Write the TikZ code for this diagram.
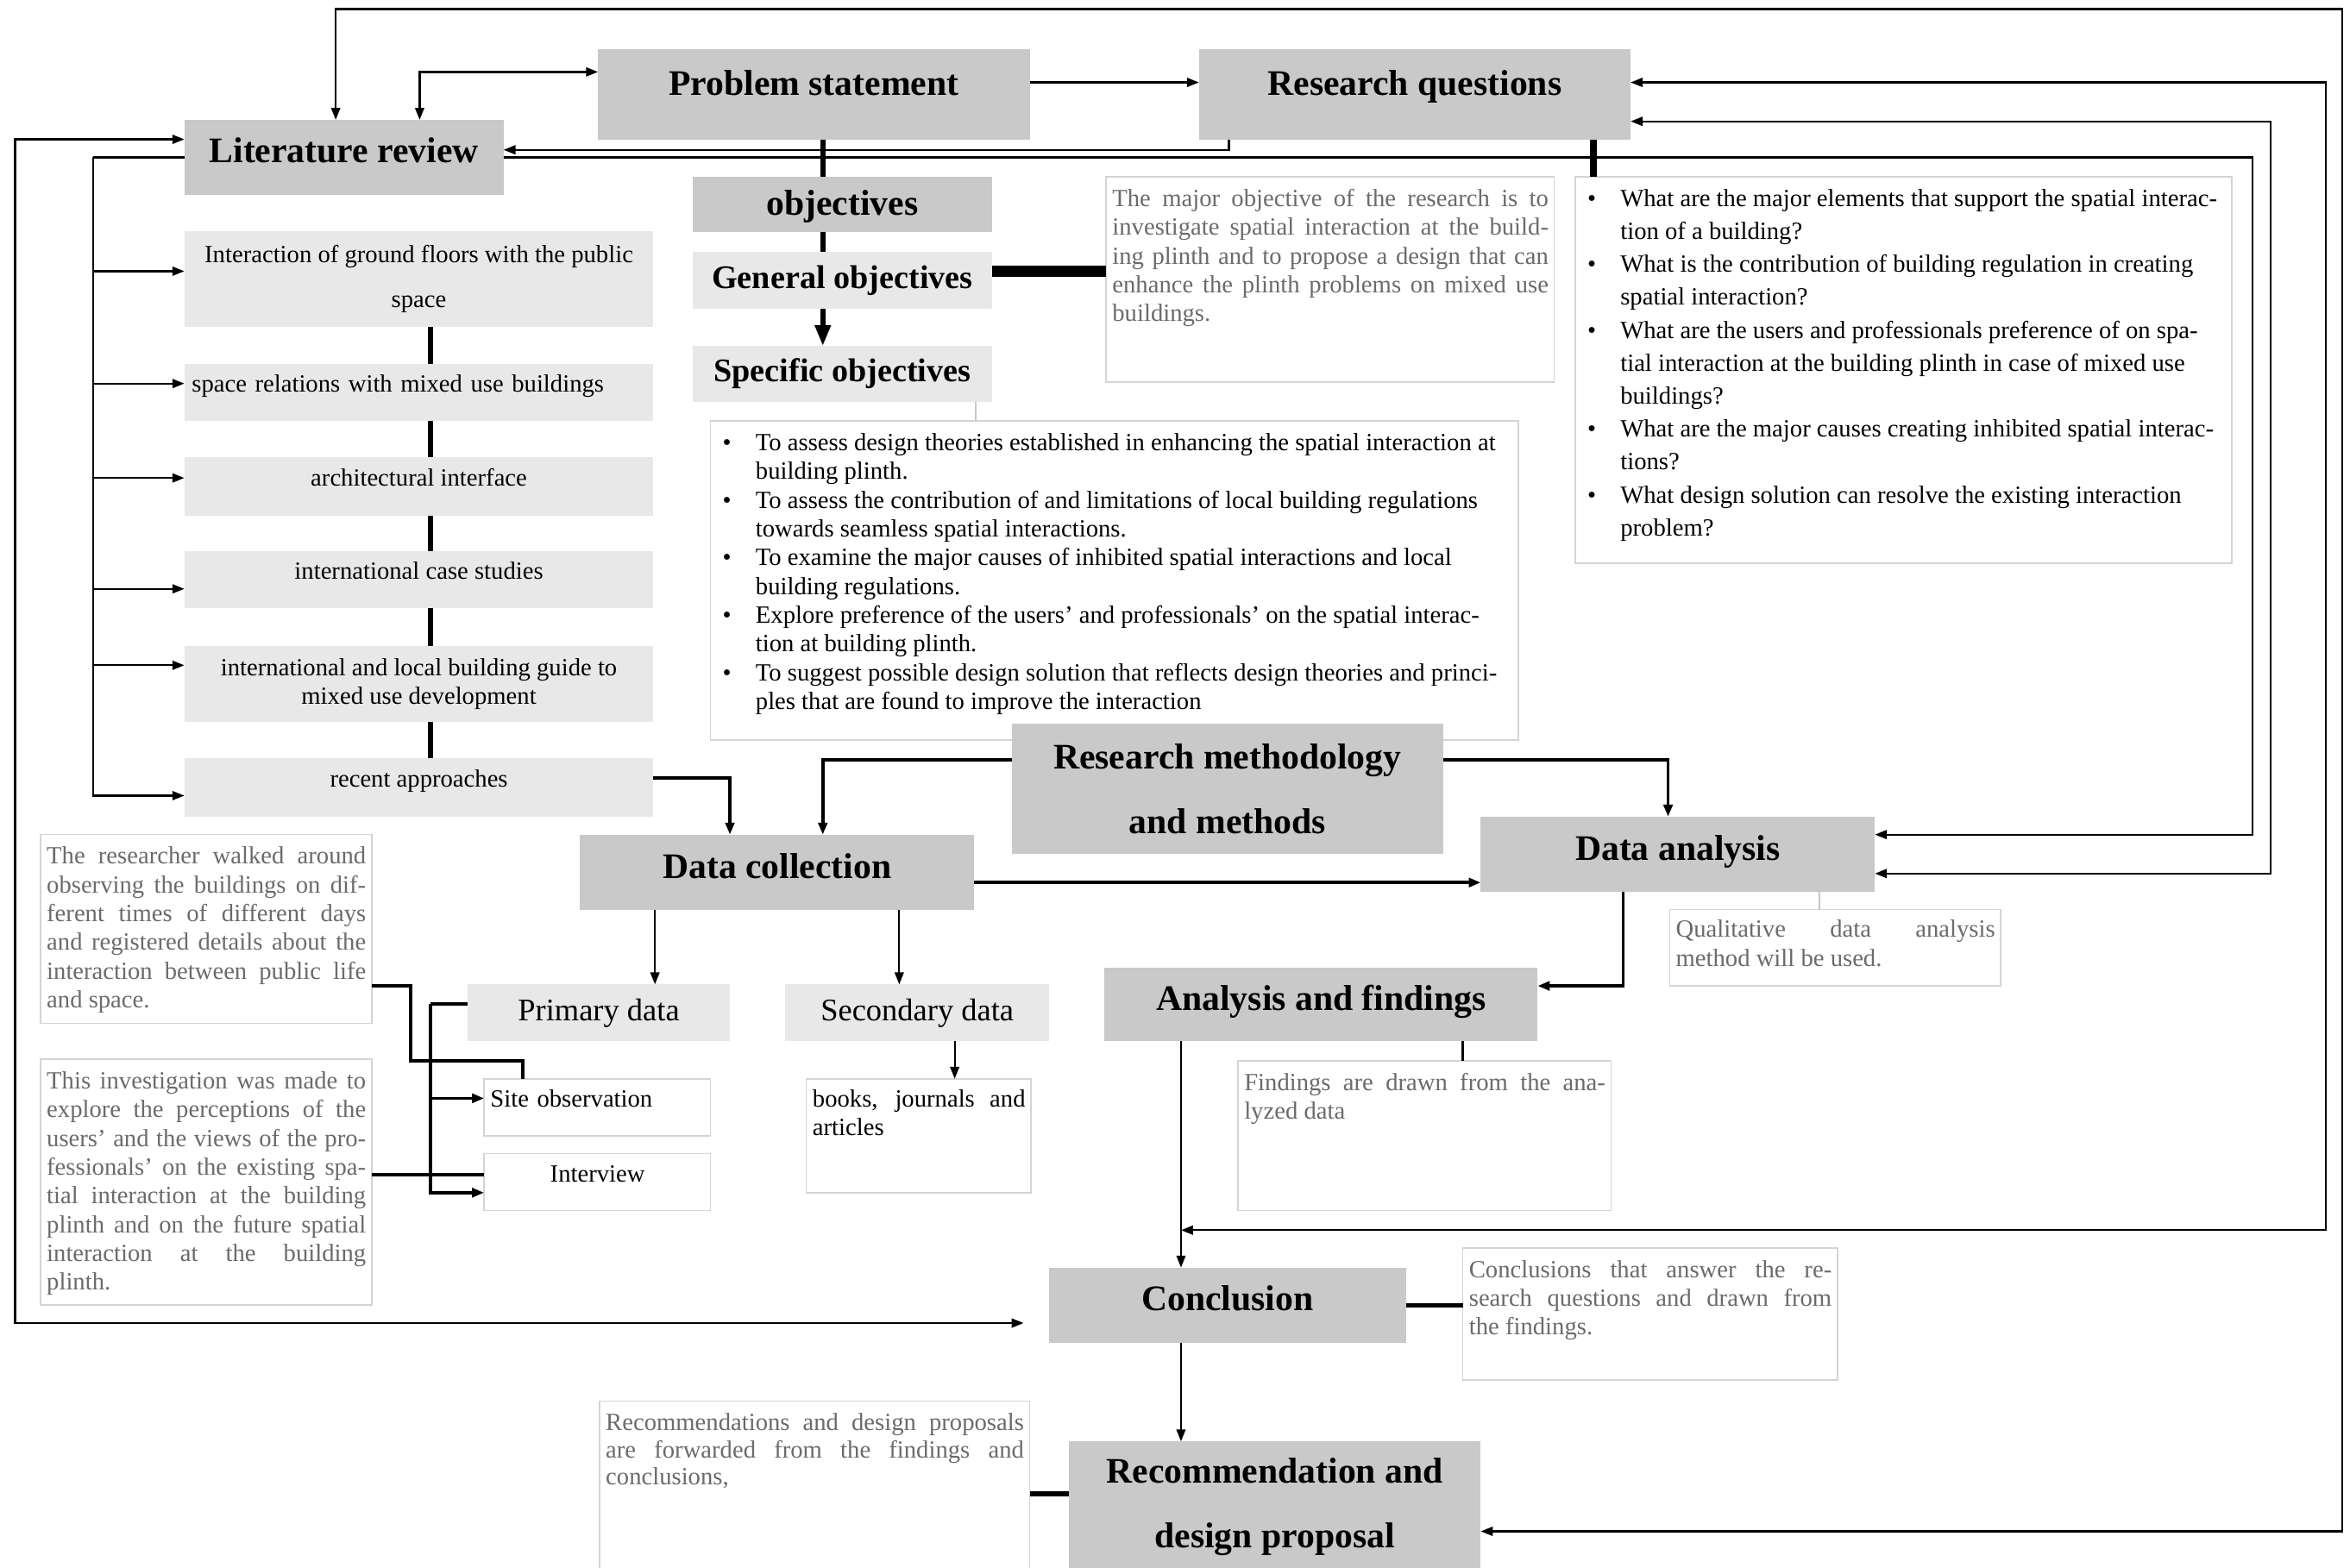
\documentclass[tikz,border=0pt]{standalone}
\usepackage{fontspec}
\setmainfont{Liberation Serif}
\usetikzlibrary{arrows.meta}
\newcommand\qfirst{\noindent\hangindent=26pt\hangafter=1\hbox to 26pt{\hspace{4pt}\textbullet\hfil}}
\newcommand\qitem{\par\qfirst}
\newcommand\qbreak{\hfil\break}
\tikzset{
  mainbox/.style = {fill = black!21, inner sep = 2pt, outer sep = 0pt, align = center,
                    font = \bfseries\fontsize{24}{43}\selectfont},
  subbox/.style = {fill = black!9, inner sep = 2pt, outer sep = 0pt, align = center,
                   font = \fontsize{16.5}{30}\selectfont},
  textup/.style = {text height = 16pt, text depth = #1},
  subup/.style = {text height = 11pt, text depth = 11.5pt},
  notebox/.style = {draw = black!17, line width = .9pt, fill = white, anchor = north west,
                    inner sep = 0pt, outer sep = 0pt},
  notetext/.style = {anchor = north west, inner xsep = 4pt, inner ysep = 8pt, align = justify,
                     font = \fontsize{16.5}{19.2}\selectfont, text = black!58},
  listtext/.style = {notetext, text = black},
  conn/.style = {line width = 1.3pt},
  midline/.style = {line width = 2.2pt},
  heavyline/.style = {line width = 3.5pt},
  faint/.style = {draw = black!22, line width = 1pt}
}
\begin{document}
\begin{tikzpicture}[x = 1pt, y = -1pt, >={Triangle[length=8pt,width=6pt]}]
\useasboundingbox (0,0) rectangle (1568,1046);
% main steps
\node[mainbox, textup = 9.2pt, minimum width = 213pt, minimum height = 50pt] (litrev) at (229.5,105) {Literature review};
\node[mainbox, textup = 15.2pt, minimum width = 288pt, minimum height = 60pt] (prob) at (543,63) {Problem statement};
\node[mainbox, textup = 15.2pt, minimum width = 288pt, minimum height = 60pt] (rq) at (944,63) {Research questions};
\node[mainbox, textup = 1.2pt, minimum width = 200pt, minimum height = 37pt] (obj) at (562,136.5) {objectives};
\node[subbox, font = \bfseries\fontsize{22}{26}\selectfont, minimum width = 200pt, minimum height = 38pt] (genobj) at (562,187) {General objectives};
\node[subbox, font = \bfseries\fontsize{22}{26}\selectfont, minimum width = 200pt, minimum height = 37pt] (specobj) at (562,249.5) {Specific objectives};
% literature topics
\node[subbox, minimum width = 313pt, minimum height = 64pt] (s1) at (279.5,186) {Interaction of ground floors with the public\\space};
\node[subbox, subup, text width = 303pt, align = left, minimum width = 313pt, minimum height = 38pt] (s2) at (279.5,262) {space relations with mixed use buildings};
\node[subbox, subup, minimum width = 313pt, minimum height = 39pt] (s3) at (279.5,324.5) {architectural interface};
\node[subbox, subup, minimum width = 313pt, minimum height = 38pt] (s4) at (279.5,387) {international case studies};
\node[subbox, font = \fontsize{16.5}{19}\selectfont, minimum width = 313pt, minimum height = 51pt] (s5) at (279.5,456.5) {international and local building guide to\\mixed use development};
\node[subbox, subup, minimum width = 313pt, minimum height = 39pt] (s6) at (279.5,525.5) {recent approaches};
% notes
\node[notebox, minimum width = 299pt, minimum height = 137pt] (gennote) at (738,118) {};
\node[notetext, text width = 291pt] (gentext) at (gennote.north west) {The major objective of the research is to\linebreak investigate spatial interaction at the build-\linebreak ing plinth and to propose a design that can\linebreak enhance the plinth problems on mixed use\linebreak buildings.};
\node[notebox, minimum width = 438pt, minimum height = 258pt] (rqnote) at (1051,118) {};
\node[listtext, text width = 430pt, font = \fontsize{16.5}{22}\selectfont] (rqtext) at (rqnote.north west) {%
\qfirst What are the major elements that support the spatial interac-\qbreak tion of a building?
\qitem What is the contribution of building regulation in creating\qbreak spatial interaction?
\qitem What are the users and professionals preference of on spa-\qbreak tial interaction at the building plinth in case of mixed use\qbreak buildings?
\qitem What are the major causes creating inhibited spatial interac-\qbreak tions?
\qitem What design solution can resolve the existing interaction\qbreak problem?\par};
\node[notebox, minimum width = 539pt, minimum height = 213pt] (specnote) at (474,281) {};
\node[listtext, text width = 531pt] (spectext) at (specnote.north west) {%
\qfirst To assess design theories established in enhancing the spatial interaction at\qbreak building plinth.
\qitem To assess the contribution of and limitations of local building regulations\qbreak towards seamless spatial interactions.
\qitem To examine the major causes of inhibited spatial interactions and local\qbreak building regulations.
\qitem Explore preference of the users' and professionals' on the spatial interac-\qbreak tion at building plinth.
\qitem To suggest possible design solution that reflects design theories and princi-\qbreak ples that are found to improve the interaction\par};
\node[mainbox, minimum width = 288pt, minimum height = 87pt] (rm) at (819,526.5) {Research methodology\\and methods};
\node[mainbox, textup = 7.2pt, minimum width = 263pt, minimum height = 50pt] (dc) at (518.5,582) {Data collection};
\node[mainbox, textup = 7.2pt, minimum width = 263pt, minimum height = 50pt] (da) at (1119.5,570) {Data analysis};
\node[mainbox, textup = 8.2pt, minimum width = 289pt, minimum height = 49pt] (af) at (881.5,670.5) {Analysis and findings};
\node[mainbox, textup = 9.2pt, minimum width = 238pt, minimum height = 50pt] (concl) at (819,871) {Conclusion};
\node[mainbox, minimum width = 275pt, minimum height = 87pt] (rec) at (850.5,1005.5) {Recommendation and\\design proposal};
% data collection
\node[subbox, font = \fontsize{21}{25}\selectfont, minimum width = 175pt, minimum height = 38pt] (prim) at (399.5,676) {Primary data};
\node[subbox, font = \fontsize{21}{25}\selectfont, minimum width = 176pt, minimum height = 38pt] (sec) at (612,676) {Secondary data};
\node[notebox, minimum width = 151pt, minimum height = 38pt] (site) at (323,720) {};
\node[listtext, text width = 143pt, align = left, inner ysep = 7pt] (sitetext) at (site.north west) {Site observation};
\node[notebox, minimum width = 151pt, minimum height = 38pt] (interview) at (323,770) {};
\node[listtext, text width = 143pt, align = center] (inttext) at (interview.north west) {Interview};
\node[notebox, minimum width = 150pt, minimum height = 76pt] (books) at (538,720) {};
\node[listtext, text width = 142pt, inner ysep = 7pt] (bookstext) at (books.north west) {books, journals and\linebreak articles};
\node[notebox, minimum width = 221pt, minimum height = 126pt] (resnote) at (27,557) {};
\node[notetext, text width = 213pt] (restext) at (resnote.north west) {The researcher walked around\linebreak observing the buildings on dif-\linebreak ferent times of different days\linebreak and registered details about the\linebreak interaction between public life\linebreak and space.};
\node[notebox, minimum width = 221pt, minimum height = 164pt] (invnote) at (27,707) {};
\node[notetext, text width = 213pt] (invtext) at (invnote.north west) {This investigation was made to\linebreak explore the perceptions of the\linebreak users' and the views of the pro-\linebreak fessionals' on the existing spa-\linebreak tial interaction at the building\linebreak plinth and on the future spatial\linebreak interaction at the building\linebreak plinth.};
\node[notebox, minimum width = 221pt, minimum height = 51pt] (qualnote) at (1114,607) {};
\node[notetext, text width = 213pt, inner ysep = 7pt] (qualtext) at (qualnote.north west) {Qualitative data analysis\linebreak method will be used.};
\node[notebox, minimum width = 249pt, minimum height = 100pt] (findnote) at (826,708) {};
\node[notetext, text width = 241pt] (findtext) at (findnote.north west) {Findings are drawn from the ana-\linebreak lyzed data};
\node[notebox, minimum width = 250pt, minimum height = 88pt] (conclnote) at (976,833) {};
\node[notetext, text width = 242pt] (concltext) at (conclnote.north west) {Conclusions that answer the re-\linebreak search questions and drawn from\linebreak the findings.};
\node[notebox, minimum width = 287pt, minimum height = 120pt] (recnote) at (400,935) {};
\node[notetext, text width = 279pt, font = \fontsize{16.5}{18.2}\selectfont] (rectext) at (recnote.north west) {Recommendations and design proposals\linebreak are forwarded from the findings and\linebreak conclusions,};
% feedback loops
\coordinate (cTop) at (1563,6);
\draw[conn, <->] ([xshift=-5.5pt]litrev.north) |- (cTop) |- ([yshift=-16.5pt]rec.east);
\coordinate (cRq1) at (1552,821);
\coordinate (jConc) at (788,821);
\draw[conn, <->] ([yshift=8pt]rq.east) -| (cRq1) -- (jConc);
\coordinate (cRq2) at (1515,583);
\draw[conn, <->] ([yshift=-18pt]rq.east) -| (cRq2) -- ([yshift=-13pt]da.east);
\coordinate (cLit) at (1503,557);
\draw[conn, ->] (litrev.east) -| (cLit) -- ([yshift=13pt]da.east);
\draw[conn, ->] ([xshift=20pt]rq.south west) |- ([yshift=5pt]litrev.east);
\coordinate (cLeft) at (10,883);
\draw[conn, <->, shorten >=17pt] ([yshift=12pt]litrev.west) -| (cLeft) -- ([yshift=-12pt]concl.west);
% literature topics
\coordinate (cSub) at (62,105);
\draw[conn] (litrev.west) -- (cSub);
\foreach \s/\dy in {s1/5, s2/6, s3/5.5, s4/-6, s5/12.5, s6/-5.5}
  \draw[conn, ->] (cSub) |- ([yshift=\dy pt]\s.west);
\foreach \a/\b in {s1/s2, s2/s3, s3/s4, s4/s5, s5/s6}
  \draw[heavyline] ([xshift=7.5pt]\a.south) -- ([xshift=7.5pt]\b.north);
% problem, questions, objectives
\draw[conn, <->] ([yshift=15pt]prob.west) -| ([xshift=50.5pt]litrev.north);
\draw[conn, ->] ([yshift=8pt]prob.east) -- ([yshift=8pt]rq.west);
\draw[heavyline] ([xshift=6pt]prob.south) -- ([xshift=6pt]prob.south |- obj.north);
\draw[heavyline] ([xshift=-13pt]obj.south) -- ([xshift=-13pt]genobj.north);
\draw[heavyline, -{Triangle[length=14pt,width=10pt]}] ([xshift=-13pt]genobj.south) -- ([xshift=-13pt]specobj.north);
\draw[line width = 7pt] ([yshift=6pt]genobj.east) -- ([yshift=6pt]genobj.east -| gennote.west);
\draw[line width = 4.5pt] ([xshift=119pt]rq.south) -- ([xshift=119pt]rq.south |- rqnote.north);
\draw[faint] ([xshift=89pt]specobj.south) -- ([xshift=89pt]specobj.south |- specnote.north);
% methodology
\draw[midline, ->] ([yshift=19.5pt]rm.west) -| ([xshift=30.5pt]dc.north);
\draw[midline, ->] ([yshift=19.5pt]rm.east) -| ([xshift=-6.5pt]da.north);
\draw[midline, ->] ([yshift=6.5pt]s6.east) -| ([xshift=-31.5pt]dc.north);
\draw[midline, ->] ([yshift=-7pt]dc.east) -- ([yshift=-7pt]dc.east -| da.west);
\draw[conn, ->] ([xshift=37.5pt]prim.north |- dc.south) -- ([xshift=37.5pt]prim.north);
\draw[conn, ->] ([xshift=-12pt]sec.north |- dc.south) -- ([xshift=-12pt]sec.north);
\draw[conn, ->] ([xshift=25pt]sec.south) -- ([xshift=25pt]sec.south |- books.north);
\coordinate (cPrim) at (287,670);
\draw[midline] ([yshift=6pt]prim.west) -- (cPrim);
\draw[midline, ->] (cPrim) |- ([yshift=6pt]site.west);
\draw[midline, ->] (cPrim) |- ([yshift=-7pt]interview.west);
\coordinate (cRes) at (274,708);
\draw[midline] ([yshift=-38pt]resnote.east) -| (cRes) -| ([xshift=-49.5pt]site.north);
\draw[midline] ([yshift=5pt]invnote.east) -- ([yshift=5pt]interview.west);
% analysis to proposal
\draw[midline, ->] ([xshift=-36.5pt]da.south) |- ([yshift=12.5pt]af.east);
\draw[faint] ([xshift=94.5pt]da.south) -- ([xshift=94.5pt]da.south |- qualnote.north);
\draw[conn, ->] ([xshift=-93.5pt]af.south) -- ([xshift=-93.5pt]af.south |- concl.north);
\draw[conn] ([xshift=94.5pt]af.south) -- ([xshift=94.5pt]af.south |- findnote.north);
\draw[line width = 3pt] (concl.east) -- (concl.east -| conclnote.west);
\draw[conn, ->] ([xshift=-31pt]concl.south) -- ([xshift=-31pt]concl.south |- rec.north);
\draw[line width = 3.5pt] ([yshift=8.5pt]rec.west) -- ([yshift=8.5pt]rec.west -| recnote.east);
\end{tikzpicture}
\end{document}
